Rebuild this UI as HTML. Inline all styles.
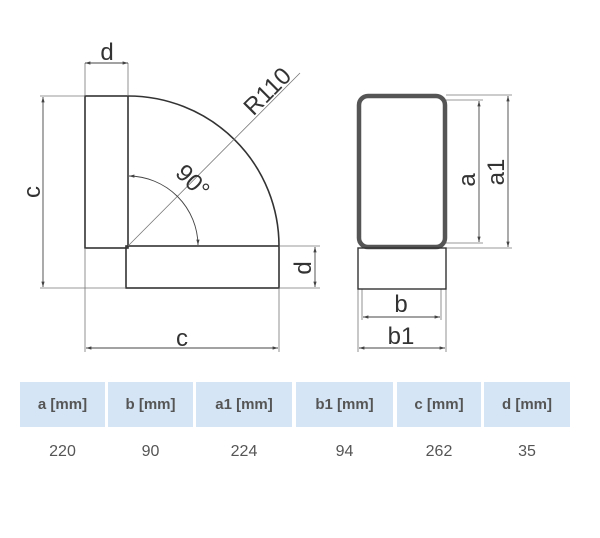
<!DOCTYPE html>
<html><head><meta charset="utf-8"><style>
body{margin:0;background:#fff;width:600px;height:538px;overflow:hidden;position:relative;font-family:"Liberation Sans",sans-serif}
.h{position:absolute;top:382px;height:45px;background:#d5e5f5;color:#555;font-weight:bold;font-size:15px;line-height:45px;text-align:center}
.v{position:absolute;top:441px;height:22px;color:#555;font-size:16px;line-height:22px;text-align:center}
</style></head><body>
<svg width="600" height="380" style="position:absolute;left:0;top:0" font-family="Liberation Sans, sans-serif" fill="none">
<defs><marker id="a" viewBox="0 0 10 10" refX="10" refY="5" markerWidth="6" markerHeight="6" orient="auto-start-reverse"><path d="M0,2 L10,5 L0,8z" fill="#444"/></marker></defs>
<g stroke="#333" stroke-width="1.6">
<rect x="85" y="96" width="43" height="152"/>
<rect x="126" y="246" width="153" height="42"/>
<path d="M128,96 A151,150 0 0 1 279,246"/>
</g>
<g stroke="#777" stroke-width="0.8">
<line x1="85" y1="63" x2="85" y2="96"/><line x1="128" y1="63" x2="128" y2="96"/>
<line x1="40" y1="96" x2="85" y2="96"/><line x1="40" y1="288" x2="126" y2="288"/>
<line x1="85" y1="248" x2="85" y2="352"/><line x1="279" y1="288" x2="279" y2="352"/>
<line x1="279" y1="246" x2="320" y2="246"/><line x1="279" y1="288" x2="320" y2="288"/>
<line x1="128" y1="246" x2="300" y2="73"/>
<line x1="446" y1="95" x2="512" y2="95"/><line x1="446" y1="100" x2="483" y2="100"/>
<line x1="446" y1="243" x2="483" y2="243"/><line x1="446" y1="248" x2="512" y2="248"/>
<line x1="358" y1="289" x2="358" y2="352"/><line x1="446" y1="289" x2="446" y2="352"/>
<line x1="362" y1="289" x2="362" y2="320"/><line x1="441" y1="289" x2="441" y2="320"/>
</g>
<g stroke="#444" stroke-width="0.9" marker-start="url(#a)" marker-end="url(#a)">
<line x1="85" y1="63" x2="128" y2="63"/>
<line x1="43" y1="97" x2="43" y2="287"/>
<line x1="86" y1="348" x2="278" y2="348"/>
<line x1="315" y1="247" x2="315" y2="287"/>
<path d="M129,176 A70,70 0 0 1 198,245" />
<line x1="479" y1="101" x2="479" y2="242"/>
<line x1="508" y1="96" x2="508" y2="247"/>
<line x1="363" y1="317" x2="440" y2="317"/>
<line x1="359" y1="348" x2="445" y2="348"/>
</g>
<rect x="359" y="96" width="86" height="151" rx="9" stroke="#555" stroke-width="4.5"/>
<rect x="358" y="248" width="88" height="41" stroke="#333" stroke-width="1.4"/>
<g fill="#333" font-size="24">
<text x="107" y="60" text-anchor="middle">d</text>
<text x="182" y="346" text-anchor="middle">c</text>
<text transform="translate(40,192) rotate(-90)" text-anchor="middle">c</text>
<text transform="translate(311,268) rotate(-90)" text-anchor="middle">d</text>
<text transform="translate(273,97) rotate(-45)" text-anchor="middle">R110</text>
<text transform="translate(187,187) rotate(45)" text-anchor="middle">90°</text>
<text x="401" y="312" text-anchor="middle">b</text>
<text x="401" y="344" text-anchor="middle">b1</text>
<text transform="translate(475,180) rotate(-90)" text-anchor="middle">a</text>
<text transform="translate(504,172) rotate(-90)" text-anchor="middle">a1</text>
</g>
</svg>
<div class="h" style="left:20px;width:85px">a [mm]</div>
<div class="h" style="left:108px;width:85px">b [mm]</div>
<div class="h" style="left:196px;width:96px">a1 [mm]</div>
<div class="h" style="left:296px;width:97px">b1 [mm]</div>
<div class="h" style="left:397px;width:84px">c [mm]</div>
<div class="h" style="left:484px;width:86px">d [mm]</div>
<div class="v" style="left:20px;width:85px">220</div>
<div class="v" style="left:108px;width:85px">90</div>
<div class="v" style="left:196px;width:96px">224</div>
<div class="v" style="left:296px;width:97px">94</div>
<div class="v" style="left:397px;width:84px">262</div>
<div class="v" style="left:484px;width:86px">35</div>
</body></html>
